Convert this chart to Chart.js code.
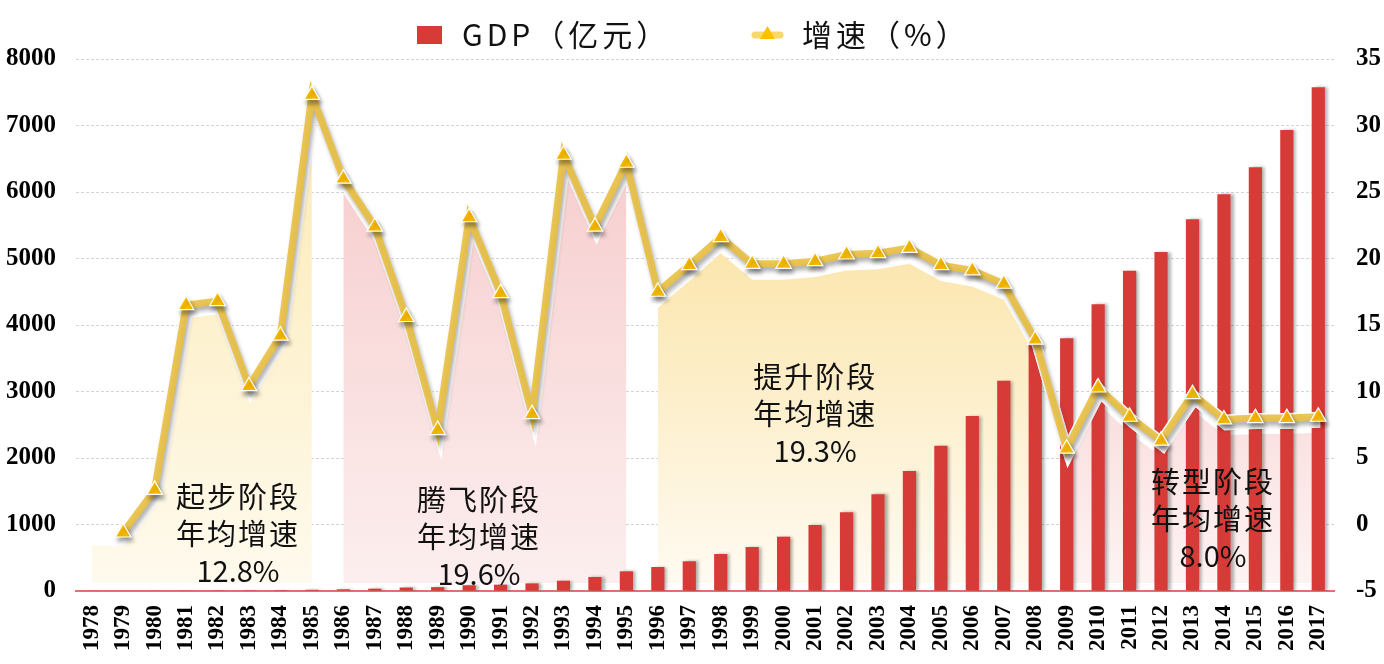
<!DOCTYPE html>
<html>
<head>
<meta charset="utf-8">
<script src="https://cdn.jsdelivr.net/npm/chart.js@4.4.1/dist/chart.umd.min.js"></script>
<style>
html,body{margin:0;padding:0;background:#ffffff;}
#wrap{width:1384px;height:664px;position:relative;}
canvas{display:block;}
</style>
</head>
<body>
<div id="wrap"><canvas id="c" width="1384" height="664" style="width:1384px;height:664px;"></canvas></div>
<script>
// ---------- DATA ----------
const years = ['1978','1979','1980','1981','1982','1983','1984','1985','1986','1987',
  '1988','1989','1990','1991','1992','1993','1994','1995','1996','1997',
  '1998','1999','2000','2001','2002','2003','2004','2005','2006','2007',
  '2008','2009','2010','2011','2012','2013','2014','2015','2016','2017'];

// GDP (亿元)
const gdp = [6, 7, 9, 10, 12, 13, 15, 19, 26, 35,
  52, 58, 86, 95, 115, 155, 210, 296, 361, 447,
  556, 662, 817, 992, 1183, 1454, 1805, 2185, 2632, 3163,
  3700, 3800, 4311, 4817, 5098, 5589, 5965, 6371, 6932, 7575];

// 增速 (%)
const growth = [null, -0.6, 2.6, 16.5, 16.8, 10.4, 14.2, 32.3, 26.0, 22.4,
  15.6, 7.1, 23.1, 17.4, 8.3, 27.8, 22.4, 27.2, 17.5, 19.5,
  21.6, 19.6, 19.6, 19.8, 20.3, 20.4, 20.8, 19.5, 19.1, 18.1,
  13.9, 5.7, 10.3, 8.1, 6.3, 9.8, 7.9, 8.0, 8.0, 8.1];

// stages
const stageNames = ['起步阶段', '腾飞阶段', '提升阶段', '转型阶段'];
const stageRates = ['12.8%', '19.6%', '19.3%', '8.0%'];
const stageStart = [0, 8, 18, 31];
const stageEnd = [7, 17, 30, 39];

const leftTicks = [0, 1000, 2000, 3000, 4000, 5000, 6000, 7000, 8000];
const rightTicks = [-5, 0, 5, 10, 15, 20, 25, 30, 35];

// ---------- STYLE ----------
const barColor = '#D63B37';
const lineColor = 'rgba(234,192,66,0.9)';
const markerColor = '#FFC000';
const stageFill = [
  ['#FCE9AE', '#FEFAEE'],
  ['#F6C6C7', '#FCEFEF'],
  ['#F9DA86', '#FFFBF3'],
  ['#F2B6B6', '#FEF4F4']
];
const stageOffset = [1.0, 1.1, 1.2, 1.2];
// text anchor in data coordinates (category index, right-axis value)
const labelIdx = [4.62, 12.28, 22.97, 35.62];
const labelVal = [2.1, 1.85, 11.1, 3.2];

function stageData(s) {
  return years.map((y, i) => {
    if (i < stageStart[s] || i > stageEnd[s]) return null;
    const v = growth[i] !== null ? growth[i] : growth[i + 1];
    return v - stageOffset[s];
  });
}

function gradientFor(s) {
  return function (ctx) {
    const chart = ctx.chart;
    const a = chart.chartArea;
    if (!a) return stageFill[s][0];
    const g = chart.ctx.createLinearGradient(0, a.top, 0, a.bottom);
    g.addColorStop(0, stageFill[s][0]);
    g.addColorStop(1, stageFill[s][1]);
    return g;
  };
}

const fillSets = stageNames.map((n, s) => ({
  type: 'line',
  label: n,
  data: stageData(s),
  yAxisID: 'y1',
  borderWidth: 0,
  borderColor: 'rgba(0,0,0,0)',
  pointRadius: 0,
  pointHoverRadius: 0,
  tension: 0,
  spanGaps: false,
  fill: { value: -4.4 },
  backgroundColor: gradientFor(s),
  order: 10
}));

const serif = "'Liberation Serif', 'Times New Roman', serif";
const cjk = "'Noto Sans CJK SC', 'Noto Sans', sans-serif";

const shadowPlugin = {
  id: 'dsShadow',
  beforeDatasetDraw(chart, args) {
    const ds = chart.data.datasets[args.index];
    if (!ds.shadowSpec) return;
    const c = chart.ctx;
    c.save();
    c.shadowColor = ds.shadowSpec.color;
    c.shadowBlur = ds.shadowSpec.blur;
    c.shadowOffsetX = ds.shadowSpec.x;
    c.shadowOffsetY = ds.shadowSpec.y;
  },
  afterDatasetDraw(chart, args) {
    const ds = chart.data.datasets[args.index];
    if (!ds.shadowSpec) return;
    chart.ctx.restore();
  }
};

const overlayPlugin = {
  id: 'overlay',
  afterDraw(chart) {
    const c = chart.ctx;
    const xs = chart.scales.x;
    const ys = chart.scales.y1;
    c.save();
    // stage annotations
    c.fillStyle = '#111';
    c.textAlign = 'center';
    c.textBaseline = 'middle';
    c.font = '29px ' + cjk;
    for (let s = 0; s < stageNames.length; s++) {
      const x = xs.getPixelForValue(labelIdx[s]) + 1;
      const y = ys.getPixelForValue(labelVal[s]);
      c.letterSpacing = '2px';
      c.fillText(stageNames[s], x, y);
      c.fillText('年均增速', x, y + 37);
      c.letterSpacing = '0px';
      c.fillText(stageRates[s], x, y + 74);
    }
    // legend
    c.textAlign = 'left';
    c.font = '30px ' + cjk;
    c.letterSpacing = '4px';
    c.fillStyle = barColor;
    c.fillRect(417, 26, 25, 18);
    c.fillStyle = '#111';
    c.fillText('GDP（亿元）', 462, 35);
    c.strokeStyle = 'rgba(248,214,100,0.95)';
    c.lineWidth = 7;
    c.lineCap = 'round';
    c.beginPath(); c.moveTo(755, 35); c.lineTo(780, 35); c.stroke();
    c.fillStyle = markerColor;
    c.beginPath();
    c.moveTo(767.5, 26); c.lineTo(775, 39); c.lineTo(760, 39); c.closePath();
    c.fill();
    c.fillStyle = '#111';
    c.fillText('增速（%）', 802, 35);
    c.restore();
  }
};

const chart = new Chart(document.getElementById('c'), {
  type: 'bar',
  data: {
    labels: years,
    datasets: [
      {
        type: 'line',
        label: '增速（%）',
        data: growth,
        yAxisID: 'y1',
        borderColor: lineColor,
        borderWidth: 7,
        tension: 0,
        spanGaps: false,
        pointStyle: 'triangle',
        pointRadius: 9,
        pointHoverRadius: 9,
        pointBackgroundColor: markerColor,
        pointBorderColor: '#ffffff',
        pointBorderWidth: 1.2,
        fill: false,
        order: 1,
        shadowSpec: { color: 'rgba(0,0,0,0.35)', blur: 4, x: 2, y: 4 }
      },
      {
        type: 'line',
        label: 'halo',
        data: growth,
        yAxisID: 'y1',
        borderColor: '#ffffff',
        borderWidth: 10,
        tension: 0,
        pointRadius: 0,
        pointHoverRadius: 0,
        fill: false,
        order: 2,
        shadowSpec: { color: '#ffffff', blur: 0, x: 2, y: 6 }
      },
      {
        type: 'bar',
        label: 'GDP（亿元）',
        data: gdp,
        yAxisID: 'y',
        backgroundColor: barColor,
        borderWidth: 0,
        barPercentage: 0.42,
        categoryPercentage: 1.0,
        order: 5,
        shadowSpec: { color: 'rgba(0,0,0,0.3)', blur: 3, x: 3, y: 0 }
      },
      ...fillSets
    ]
  },
  options: {
    responsive: false,
    animation: false,
    devicePixelRatio: 1,
    layout: { padding: { top: 59, left: 0, right: 0, bottom: 0 } },
    plugins: {
      legend: { display: false },
      tooltip: { enabled: false },
      title: { display: false }
    },
    scales: {
      x: {
        type: 'category',
        offset: true,
        grid: { display: false, drawTicks: false },
        border: { display: true, color: '#E27070', width: 2 },
        ticks: {
          autoSkip: false,
          maxRotation: 90,
          minRotation: 90,
          padding: 14,
          color: '#000',
          font: { family: serif, weight: 'bold', size: 23 }
        },
        afterFit(s) { s.height = 73; }
      },
      y: {
        position: 'left',
        min: 0,
        max: 8000,
        afterBuildTicks(s) { s.ticks = leftTicks.map(v => ({ value: v })); },
        grid: { color: '#D4D4D4', lineWidth: 1, drawTicks: false },
        border: { display: false, dash: [3, 2] },
        ticks: {
          padding: 20,
          color: '#000',
          font: { family: serif, weight: 'bold', size: 25 },
          callback: (v) => String(v)
        },
        afterFit(s) { s.width = 76; }
      },
      y1: {
        position: 'right',
        min: -5,
        max: 35,
        afterBuildTicks(s) { s.ticks = rightTicks.map(v => ({ value: v })); },
        grid: { display: false, drawTicks: false },
        border: { display: false },
        ticks: {
          padding: 22,
          color: '#000',
          font: { family: serif, weight: 'bold', size: 25 },
          callback: (v) => String(v)
        },
        afterFit(s) { s.width = 50; }
      }
    }
  },
  plugins: [shadowPlugin, overlayPlugin]
});
</script>
</body>
</html>
